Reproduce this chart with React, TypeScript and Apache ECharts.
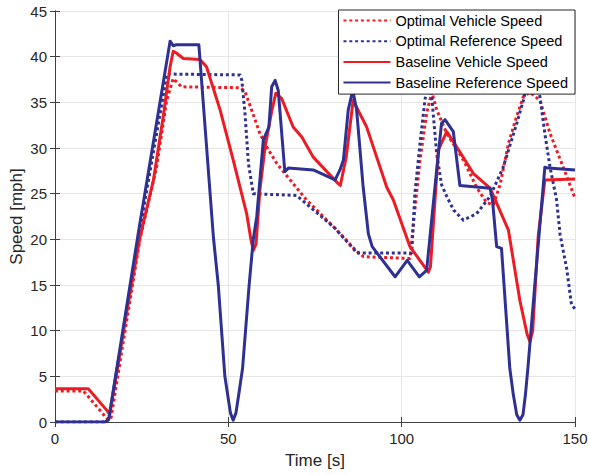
import React, { useEffect, useRef } from "react";
import * as echarts from "echarts";

// Optimal Vehicle Speed (red dotted)
const optVehT = [0, 8.2, 15.4, 16.2, 20, 24.5, 29.3, 32.2, 34.1, 36.5, 53.4, 54.8, 59.1, 61.1, 64, 68.7, 72.6, 80.8, 87, 89, 102.4, 103.8, 105.3, 107.2, 108.7, 110.1, 113, 117.8, 121.6, 124.5, 126.5, 128.4, 130.8, 133.2, 135.1, 137, 139.9, 142.8, 146.6, 150];
const optVehV = [3.4, 3.4, 0.2, 0.5, 9.5, 20, 27.9, 35.2, 37.6, 36.7, 36.6, 36.2, 31.6, 30.1, 28.3, 26.1, 24.3, 21.2, 18.7, 18.1, 17.9, 23.2, 28.7, 33.8, 36.1, 34.2, 31.6, 28.7, 25.7, 24.0, 23.8, 26.0, 30.5, 33.5, 35.6, 36.1, 35.2, 31.6, 27.9, 24.5];

// Optimal Reference Speed (blue dotted)
const optRefT = [0, 14.8, 15.5, 24, 32.3, 53.4, 53.9, 54.8, 55.8, 57.2, 69.7, 80.8, 86, 87, 102.9, 103.8, 105.3, 106.7, 107.6, 108.7, 110.1, 111.5, 113, 115, 117.8, 121.6, 125.5, 129.3, 131, 133.2, 135.1, 136.5, 138.5, 139.9, 141.3, 142.8, 144.7, 145.7, 147.6, 149, 150];
const optRefV = [0, 0, 0.3, 20, 38.1, 38.0, 37.4, 33.8, 28.3, 25, 24.8, 21.2, 19, 18.5, 18.5, 25, 30.5, 35.2, 37.3, 35.5, 29.4, 26, 24.7, 23.2, 22.1, 22.8, 24.7, 27.9, 30, 32.7, 35.2, 37.5, 37.5, 35.6, 31.6, 27.9, 24.3, 20.5, 16.8, 12.8, 12.4];

// Baseline Vehicle Speed (red solid)
const baseVehT = [0, 9.6, 14.9, 15.8, 20, 24.5, 28.4, 31.2, 33.2, 34.1, 35, 37, 41.8, 43.7, 47.6, 51.4, 55.3, 56.5, 57.2, 58, 59.1, 60.6, 62.5, 63.7, 65.4, 68.7, 71.2, 74.5, 81.7, 82.3, 84, 86, 89.9, 95.7, 97.6, 102.4, 107.7, 108.3, 110.6, 113, 115.9, 120.7, 125.5, 130.8, 134.1, 136.2, 137, 137.8, 139.4, 141.3, 150];
const baseVehV = [3.65, 3.65, 1.3, 0.8, 10.5, 20.2, 26.5, 33.4, 38.9, 40.6, 40.4, 39.8, 39.7, 38.9, 34.2, 28.7, 22.8, 20, 18.8, 19.5, 25.4, 30.1, 34, 36, 35.4, 32.3, 31.2, 29, 26.1, 25.9, 29, 35.2, 32.3, 25.7, 24.3, 19.2, 16.4, 17, 29.8, 31.8, 30.1, 27.2, 25.6, 21, 13.3, 9.6, 8.8, 10, 20.4, 26.5, 26.6];

// Baseline Reference Speed (blue solid)
const baseRefT = [0, 14.5, 15.5, 24, 33.2, 34.1, 35, 41.5, 45.7, 47.1, 49, 49.8, 50.6, 51.4, 52.2, 53, 54.1, 56, 57.2, 58.2, 60.1, 61.7, 62.5, 63.5, 64.4, 66.3, 67.3, 74.5, 80.8, 82.2, 83.2, 84.6, 85.9, 87, 88.9, 90.4, 91.5, 98.1, 101.6, 105.1, 107.2, 110.1, 111.5, 112.5, 114.9, 116.8, 125.5, 126.2, 127.4, 128.8, 131.2, 132.2, 133.2, 134.1, 135, 135.7, 136.4, 138.4, 141.3, 142.3, 150];
const baseRefV = [0, 0, 0.3, 20.6, 41.7, 41.2, 41.3, 41.3, 20.2, 15, 5, 3, 1, 0.2, 1, 3, 5.85, 15, 20, 22.5, 30.9, 32.3, 36.7, 37.4, 36.3, 27.4, 27.8, 27.6, 26.5, 27.6, 28.7, 34.2, 36.3, 34.2, 25.7, 20.6, 19.2, 15.9, 17.7, 15.9, 16.6, 27.6, 32.7, 33.1, 31.8, 25.9, 25.6, 24.3, 19.2, 19.0, 5.85, 3, 0.8, 0.2, 0.8, 3, 5.85, 15, 27.9, 27.8, 27.6];

const xTicks = [0, 50, 100, 150];
const yTicks = [0, 5, 10, 15, 20, 25, 30, 35, 40, 45];

const zip = (t: number[], v: number[]) => t.map((x, i) => [x, v[i]]);

const RED = "#ED1C24";
const BLUE = "#2E3192";
const FONT = "'Liberation Sans', Arial, Helvetica, sans-serif";
const AXC = "#404040";

export default function App() {
  const ref = useRef<HTMLDivElement>(null);
  useEffect(() => {
    if (!ref.current) return;
    const chart = echarts.init(ref.current, undefined, { renderer: "svg" });
    const xMin = xTicks[0], xMax = xTicks[xTicks.length - 1];
    const yMin = yTicks[0], yMax = yTicks[yTicks.length - 1];
    const baseX = { type: "value" as const, min: xMin, max: xMax, interval: 50 };
    const baseY = { type: "value" as const, min: yMin, max: yMax, interval: 5 };
    const dotted = [3, 2.8];
    const mk = (name: string, t: number[], v: number[], color: string, dash: any) => ({
      name,
      type: "line",
      data: zip(t, v),
      showSymbol: false,
      symbol: "none",
      lineStyle: { color, width: 3, type: dash, join: "round" },
      itemStyle: { color },
    });
    chart.setOption({
      animation: false,
      textStyle: { fontFamily: FONT },
      grid: { left: 55, right: 14, top: 11, bottom: 53, outerBoundsMode: "none" },
      legend: {
        orient: "vertical",
        right: 14,
        top: 10,
        itemWidth: 47,
        itemHeight: 14,
        itemGap: 5.7,
        padding: [3, 7, 4, 4],
        backgroundColor: "#ffffff",
        borderColor: "#262626",
        borderWidth: 1,
        borderRadius: 0,
        itemStyle: { opacity: 0, color: "transparent", borderWidth: 0 },
        textStyle: { fontSize: 14.5, color: "#000", fontFamily: FONT },
        z: 10,
      },
      xAxis: [
        {
          ...baseX,
          position: "bottom",
          name: "Time [s]",
          nameLocation: "middle",
          nameGap: 30,
          nameMoveOverlap: false,
          nameTextStyle: { fontSize: 17, color: "#262626", fontFamily: FONT },
          axisLine: { show: true, lineStyle: { color: AXC, width: 1 } },
          axisTick: { show: true, inside: true, length: 5, lineStyle: { color: AXC } },
          axisLabel: { fontSize: 15, color: "#262626", margin: 9, fontFamily: FONT },
          splitLine: { show: true, lineStyle: { color: "#e6e6e6", width: 1 } },
        },
        {
          ...baseX,
          position: "top",
          axisLine: { show: true, lineStyle: { color: AXC, width: 1 } },
          axisTick: { show: true, inside: true, length: 5, lineStyle: { color: AXC } },
          axisLabel: { show: false },
          splitLine: { show: false },
        },
      ],
      yAxis: [
        {
          ...baseY,
          position: "left",
          name: "Speed [mph]",
          nameLocation: "middle",
          nameGap: 30,
          nameMoveOverlap: false,
          nameTextStyle: { fontSize: 17, color: "#262626", fontFamily: FONT },
          axisLine: { show: true, lineStyle: { color: AXC, width: 1 } },
          axisTick: { show: true, inside: true, length: 5, lineStyle: { color: AXC } },
          axisLabel: { fontSize: 15, color: "#262626", margin: 8, fontFamily: FONT },
          splitLine: { show: true, lineStyle: { color: "#e6e6e6", width: 1 } },
        },
        {
          ...baseY,
          position: "right",
          axisLine: { show: true, lineStyle: { color: AXC, width: 1 } },
          axisTick: { show: true, inside: true, length: 5, lineStyle: { color: AXC } },
          axisLabel: { show: false },
          splitLine: { show: false },
        },
      ],
      series: [
        mk("Optimal Vehicle Speed", optVehT, optVehV, RED, dotted),
        mk("Optimal Reference Speed", optRefT, optRefV, BLUE, dotted),
        mk("Baseline Vehicle Speed", baseVehT, baseVehV, RED, "solid"),
        mk("Baseline Reference Speed", baseRefT, baseRefV, BLUE, "solid"),
      ],
    });
    return () => chart.dispose();
  }, []);
  return (
    <div
      ref={ref}
      style={{ position: "fixed", left: 0, top: 0, width: 589, height: 475, background: "#fff" }}
    />
  );
}
